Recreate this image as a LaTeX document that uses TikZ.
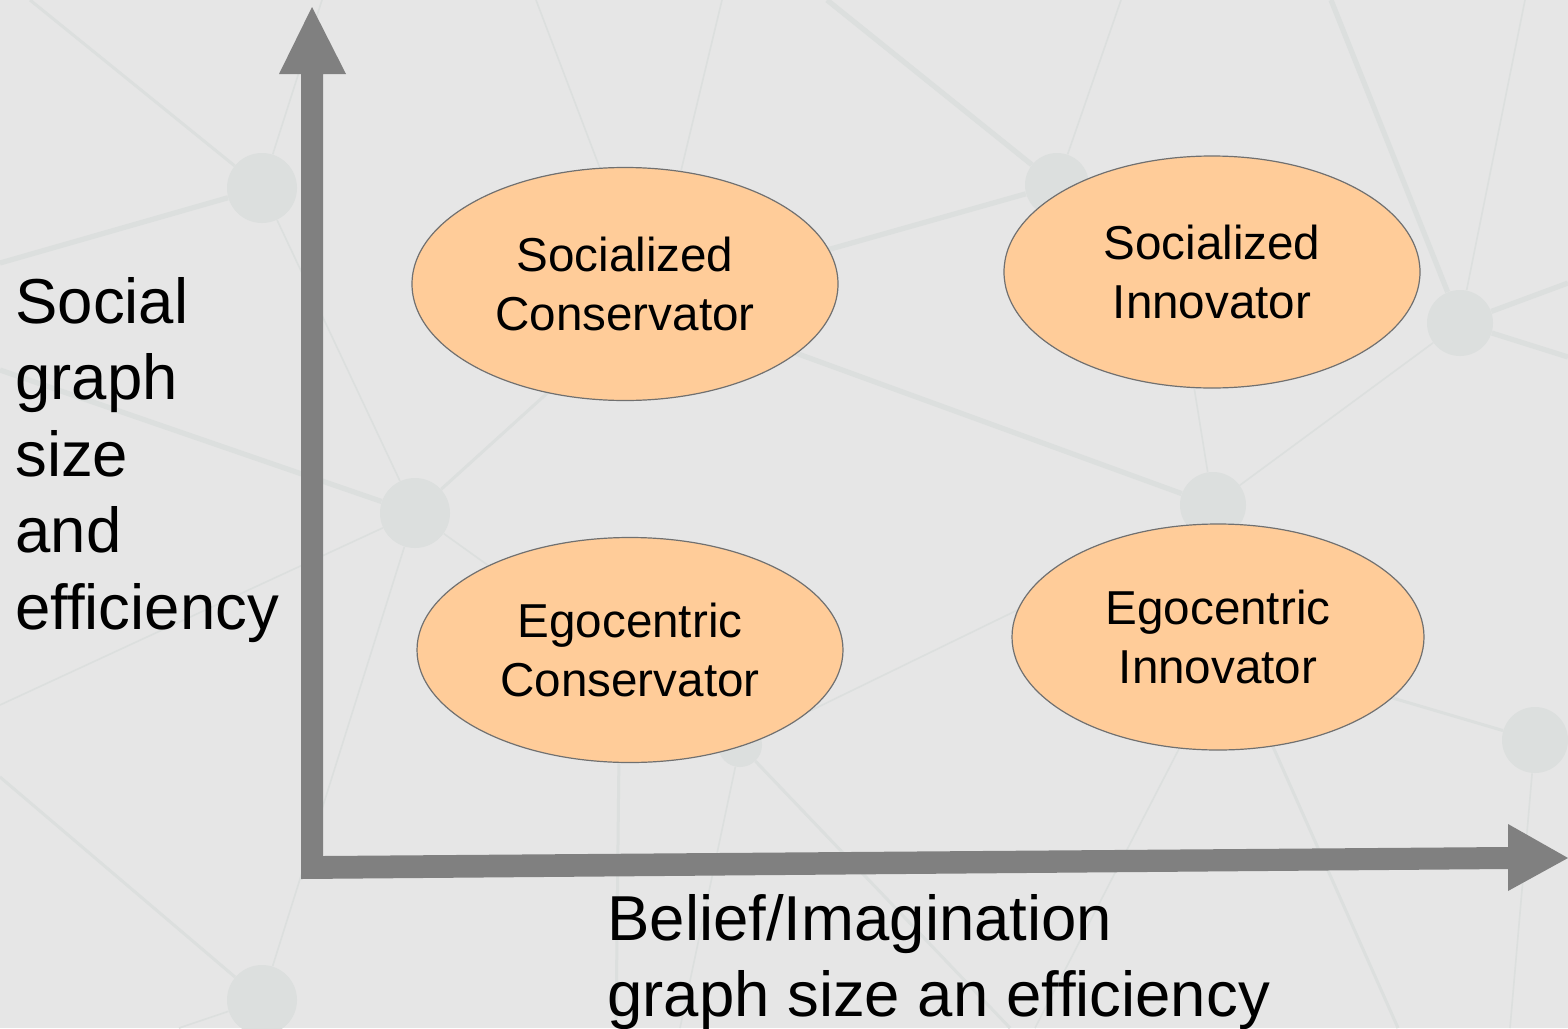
\documentclass[tikz,border=0pt]{standalone}
\usepackage{fontspec}
\setmainfont{Liberation Sans}
\usetikzlibrary{shapes.geometric}
\definecolor{bgc}{HTML}{E6E6E6}
\definecolor{netc}{HTML}{DCDFDE}
\definecolor{axisc}{HTML}{808080}
\definecolor{ovalfill}{HTML}{FFCC99}
\definecolor{ovaledge}{HTML}{707070}
\tikzset{
  netthick/.style={draw=netc, line width=2.6pt},
  netmid/.style={draw=netc, line width=1.5pt},
  netthin/.style={draw=netc, line width=0.8pt},
  netdot/.style={circle, fill=netc, inner sep=0pt, minimum size=#1},
  quad/.style={ellipse, fill=ovalfill, draw=ovaledge, line width=0.6pt, align=center,
    inner sep=0pt, text=black, font=\fontsize{23.8}{29.2}\selectfont},
  axislabel/.style={align=left, inner sep=0pt, text=black,
    font=\fontsize{31.75}{38.25}\selectfont, anchor=north west},
}
\begin{document}
\begin{tikzpicture}[x=0.5pt,y=-0.5pt]
\fill[bgc] (0,0) rectangle (1568,1028);
\useasboundingbox (0,0) rectangle (1568,1028);
% background network
\node[netdot=35pt] (nA) at (262,188) {};
\node[netdot=35pt] (nB) at (415,513) {};
\node[netdot=32pt] (nC) at (1057,185) {};
\node[netdot=33pt] (nD) at (1460,323) {};
\node[netdot=33pt] (nE) at (1213,505) {};
\node[netdot=22pt] (nF) at (740,745) {};
\node[netdot=33pt] (nG) at (1535,740) {};
\node[netdot=35pt] (nH) at (262,1000) {};
\coordinate (hP) at (650,300);
\coordinate (hQ) at (1180,300);
\coordinate (hR) at (620,660);
\coordinate (hS) at (1230,650);
\coordinate (hT) at (1110,565);
\coordinate (f1) at (30,0);
\coordinate (f2) at (0,263);
\coordinate (f3) at (322,0);
\coordinate (f4) at (0,370);
\coordinate (f5) at (536,0);
\coordinate (f6) at (722,0);
\coordinate (f7) at (827,0);
\coordinate (f8) at (1121,0);
\coordinate (f9) at (1331,0);
\coordinate (f10) at (1525,0);
\coordinate (f11) at (1568,283);
\coordinate (f12) at (1568,357);
\coordinate (f13) at (616,1028);
\coordinate (f14) at (0,777);
\coordinate (f15) at (0,705);
\coordinate (f16) at (179,1028);
\coordinate (f17) at (1510,1028);
\coordinate (f18) at (1398,1028);
\coordinate (f19) at (1035,1028);
\coordinate (f20) at (680,1028);
\coordinate (f21) at (1010,1028);
\draw[netmid] (f1) -- (nA);
\draw[netthin] (nA) -- (nB);
\draw[netthick] (nA) -- (f2);
\draw[netthin] (nA) -- (f3);
\draw[netthick] (f4) -- (nB);
\draw[netmid] (nB) -- (hP);
\draw[netthick] (hP) -- (nC);
\draw[netthick] (hP) -- (nE);
\draw[netthin] (f5) -- (hP);
\draw[netthin] (f6) -- (hP);
\draw[netthick] (f7) -- (nC);
\draw[netthin] (f8) -- (nC);
\draw[netthick] (f9) -- (nD);
\draw[netthin] (f10) -- (nD);
\draw[netthick] (nD) -- (f11);
\draw[netthick] (nD) -- (f12);
\draw[netthin] (nD) -- (nE);
\draw[netthin] (hQ) -- (nE);
\draw[netthin] (nB) -- (nH);
\draw[netthin] (nB) -- (hR);
\draw[netmid] (hR) -- (f13);
\draw[netmid] (f14) -- (nH);
\draw[netthin] (f15) -- (nB);
\draw[netthin] (nH) -- (f16);
\draw[netthin] (nF) -- (hT);
\draw[netmid] (hS) -- (nG);
\draw[netthin] (nG) -- (f17);
\draw[netmid] (hS) -- (f18);
\draw[netthin] (hS) -- (f19);
\draw[netthin] (nF) -- (f20);
\draw[netmid] (nF) -- (f21);
\draw[netthin] (hR) -- (nF);
\draw[netthin] (nE) -- (hS);
% axes
\fill[axisc] (301,879) -- (301,74) -- (279,74) -- (312,7) -- (346,74) -- (323,74)
  -- (323,856) -- (1508,847) -- (1508,824) -- (1568,858) -- (1508,891)
  -- (1508,869) -- cycle;
% quadrants
\node[quad, minimum width=213pt, minimum height=116.5pt] (sc) at (625,284) {Socialized\\Conservator};
\node[quad, minimum width=208pt, minimum height=116pt] (si) at (1212,272) {Socialized\\Innovator};
\node[quad, minimum width=213pt, minimum height=112.5pt] (ec) at (630,650) {Egocentric\\Conservator};
\node[quad, minimum width=206pt, minimum height=113pt] (ei) at (1218,637) {Egocentric\\Innovator};
% axis labels
\node[axislabel] (ylab) at (15,277) {Social\\graph\\size\\and\\efficiency};
\node[axislabel] (xlab) at (607,894) {Belief/Imagination\\graph size an efficiency};
\end{tikzpicture}
\end{document}
